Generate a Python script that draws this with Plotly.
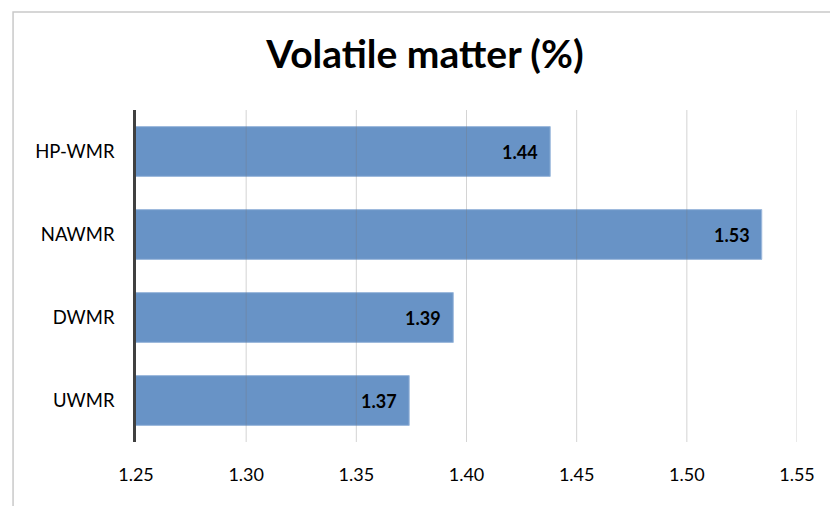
import plotly.graph_objects as go

# Volatile matter content per sample
categories = ["UWMR", "DWMR", "NAWMR", "HP-WMR"]
values = [1.374, 1.394, 1.534, 1.438]
tick_vals = [1.25, 1.30, 1.35, 1.40, 1.45, 1.50, 1.55]
tick_text = ["1.25", "1.30", "1.35", "1.40", "1.45", "1.50", "1.55"]

FONT = "Lato"
BAR = "#6893c6"

fig = go.Figure(
    go.Bar(
        x=values,
        y=categories,
        orientation="h",
        base=0,
        marker=dict(color=BAR, line=dict(color="#9cb9dc", width=1)),
        hoverinfo="x+y",
    )
)

# value labels just inside the end of each bar
for c, v in zip(categories, values):
    fig.add_annotation(
        x=v, y=c, xref="x", yref="y",
        text=f"<b>{v:.2f}</b>", showarrow=False,
        xanchor="right", xshift=-10,
        font=dict(family=FONT, size=18, color="#000000"),
    )

# vertical gridlines drawn over the bars
for t in tick_vals[1:]:
    fig.add_shape(
        type="line", xref="x", yref="paper",
        x0=t, x1=t, y0=0, y1=1,
        line=dict(color="rgba(120,120,120,0.32)", width=1),
        layer="above",
    )

# outer chart frame
fig.add_shape(
    type="rect", xref="paper", yref="paper",
    x0=-0.186, x1=2, y0=-1, y1=1.295,
    line=dict(color="#c9c9c9", width=1.5),
    layer="below",
)

fig.update_layout(
    width=830, height=506,
    margin=dict(l=136, r=33, t=110, b=64),
    paper_bgcolor="white", plot_bgcolor="white",
    bargap=0.4,
    showlegend=False,
    title=dict(
        text="<b>Volatile matter (%)</b>",
        x=0.512, xanchor="center", y=0.893, yanchor="middle",
        font=dict(family=FONT, size=39, color="#000000"),
    ),
    xaxis=dict(
        range=[1.25, 1.55],
        tickvals=tick_vals, ticktext=tick_text,
        showgrid=False, zeroline=False,
        showline=False, ticks="",
        tickfont=dict(family=FONT, size=18, color="#000000"),
        ticklabelstandoff=20,
    ),
    yaxis=dict(
        categoryorder="array", categoryarray=categories,
        showgrid=False, zeroline=False,
        showline=True, linecolor="#404040", linewidth=2.5,
        ticks="", ticklabelstandoff=15,
        tickfont=dict(family=FONT, size=18.5, color="#000000"),
    ),
)

fig.write_html("out.html")
